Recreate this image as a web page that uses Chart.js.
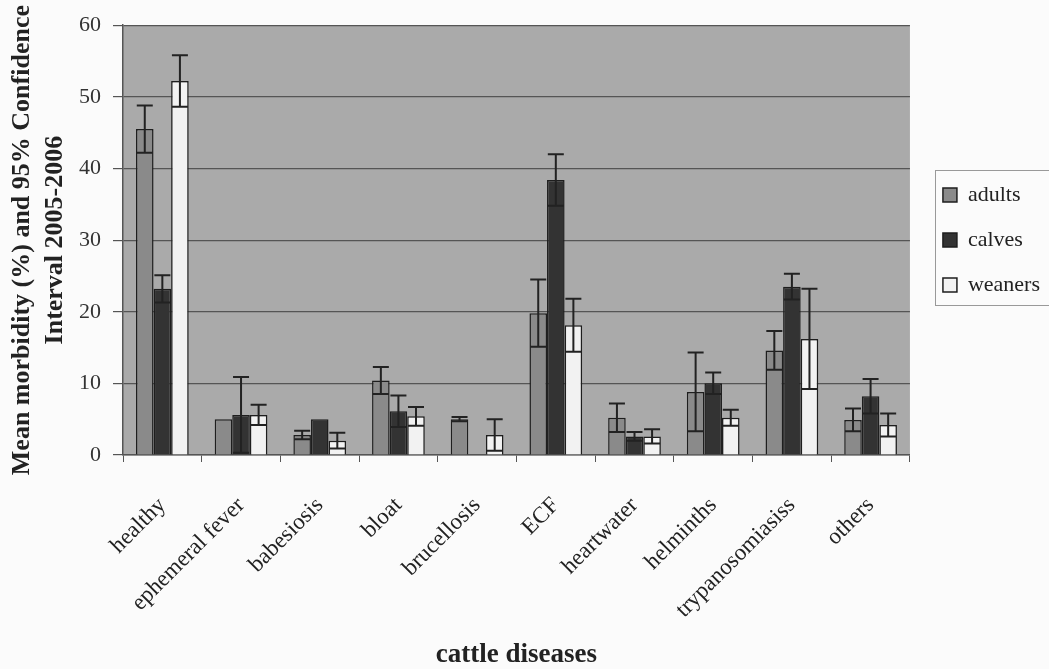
<!DOCTYPE html>
<html>
<head>
<meta charset="utf-8">
<script src="https://cdn.jsdelivr.net/npm/chart.js@4/dist/chart.umd.min.js"></script>
<style>
  html, body { margin: 0; padding: 0; background: #fbfbfb; }
  #wrap { width: 1049px; height: 669px; }
</style>
</head>
<body>
<div id="wrap"><canvas id="myChart"></canvas></div>
<script>
// categories and values
const labels = ['healthy', 'ephemeral fever', 'babesiosis', 'bloat', 'brucellosis', 'ECF', 'heartwater', 'helminths', 'trypanosomiasiss', 'others'];
const adults = [45.5, 5.0, 2.8, 10.4, 5.0, 19.8, 5.2, 8.8, 14.6, 4.9];
const calves = [23.2, 5.6, 5.0, 6.1, 0, 38.4, 2.6, 10.0, 23.5, 8.2];
const weaners = [52.2, 5.6, 2.0, 5.4, 2.8, 18.1, 2.6, 5.2, 16.2, 4.2];
// half-width of the 95% confidence interval
const adultsErr = [3.3, 0, 0.6, 1.9, 0.3, 4.7, 2.0, 5.5, 2.7, 1.6];
const calvesErr = [1.9, 5.3, 0, 2.2, 0, 3.6, 0.6, 1.5, 1.8, 2.4];
const weanersErr = [3.6, 1.4, 1.1, 1.3, 2.2, 3.7, 1.0, 1.1, 7.0, 1.6];
const yTicks = [0, 10, 20, 30, 40, 50, 60];

const serif = "'Liberation Serif', 'DejaVu Serif', serif";

// grey plot area
const plotBg = {
  id: 'plotBg',
  beforeDraw(chart) {
    const a = chart.chartArea, ctx = chart.ctx;
    ctx.save();
    ctx.fillStyle = '#aaaaaa';
    ctx.fillRect(a.left, a.top, a.right - a.left, a.bottom - a.top);
    ctx.restore();
  }
};

// error bars from the err arrays
const errorBars = {
  id: 'errorBars',
  afterDatasetsDraw(chart) {
    const ctx = chart.ctx, y = chart.scales.y;
    ctx.save();
    ctx.strokeStyle = '#222';
    ctx.lineWidth = 2;
    chart.data.datasets.forEach(function (ds, i) {
      const meta = chart.getDatasetMeta(i);
      meta.data.forEach(function (bar, j) {
        const e = ds.err[j];
        if (!e) return;
        const v = ds.data[j];
        const yt = y.getPixelForValue(v + e), yb = y.getPixelForValue(Math.max(0, v - e));
        const x = bar.x, w = 8;
        ctx.beginPath();
        ctx.moveTo(x, yt); ctx.lineTo(x, yb);
        ctx.moveTo(x - w, yt); ctx.lineTo(x + w, yt);
        ctx.moveTo(x - w, yb); ctx.lineTo(x + w, yb);
        ctx.stroke();
      });
    });
    ctx.restore();
  }
};

// push the legend a bit away from the plot and frame it
const legendBox = {
  id: 'legendBox',
  afterLayout(chart) {
    const l = chart.legend;
    l.left += 10;
    l.right += 10;
  },
  afterDraw(chart) {
    const hb = chart.legend.legendHitBoxes, ctx = chart.ctx;
    if (!hb || !hb.length) return;
    const first = hb[0], last = hb[hb.length - 1];
    ctx.save();
    ctx.strokeStyle = '#999';
    ctx.lineWidth = 1;
    const x0 = Math.round(first.left - 8) + 0.5, y0 = Math.round(first.top - 14) + 0.5;
    const y1 = Math.round(last.top + last.height + 9) + 0.5;
    ctx.strokeRect(x0, y0, chart.width + 5 - x0, y1 - y0);
    ctx.restore();
  }
};

const data = {
  labels: labels,
  datasets: [
    { label: 'adults', data: adults, err: adultsErr, backgroundColor: '#8a8a8a' },
    { label: 'calves', data: calves, err: calvesErr, backgroundColor: '#333333' },
    { label: 'weaners', data: weaners, err: weanersErr, backgroundColor: '#f2f2f2' }
  ]
};
data.datasets.forEach(function (d) {
  d.borderColor = '#1e1e1e';
  d.borderWidth = 1.5;
  d.barPercentage = 1.0;
  d.categoryPercentage = 0.67;
});

const config = {
  type: 'bar',
  data: data,
  options: {
    responsive: true,
    maintainAspectRatio: false,
    animation: false,
    layout: { padding: { left: 6, top: 24, right: 9, bottom: 0 } },
    plugins: {
      tooltip: { enabled: false },
      legend: {
        position: 'right',
        fullSize: false,
        labels: {
          font: { family: serif, size: 22 },
          color: '#222',
          boxWidth: 14,
          boxHeight: 14,
          padding: 23,
          generateLabels(chart) {
            return chart.data.datasets.map(function (ds, i) {
              return { text: ds.label, fillStyle: ds.backgroundColor, strokeStyle: '#1e1e1e', lineWidth: 1.5, datasetIndex: i, fontColor: '#222' };
            });
          }
        }
      }
    },
    scales: {
      x: {
        afterFit(scale) { scale.height = 214; },
        grid: { display: true, drawOnChartArea: false, color: '#555', tickLength: 7 },
        border: { color: '#555', width: 1.5 },
        ticks: {
          font: { family: serif, size: 23 },
          color: '#222',
          minRotation: 45,
          maxRotation: 45,
          autoSkip: false,
          padding: 30
        },
        title: {
          display: true,
          text: 'cattle diseases',
          font: { family: serif, size: 27, weight: 'bold', lineHeight: 1 },
          color: '#222',
          padding: { top: 0, bottom: 0 }
        }
      },
      y: {
        min: 0,
        max: 60,
        afterBuildTicks(scale) { scale.ticks = yTicks.map(function (v) { return { value: v }; }); },
        afterFit(scale) { scale.width = 117; },
        grid: { color: '#555', lineWidth: 1.2, tickLength: 10 },
        border: { color: '#555', width: 1.5 },
        ticks: { font: { family: serif, size: 22 }, color: '#333', padding: 12 },
        title: {
          display: true,
          text: ['Mean morbidity (%) and 95% Confidence', 'Interval 2005-2006'],
          font: { family: serif, size: 26, weight: 'bold', lineHeight: 1.26 },
          color: '#222',
          padding: { top: 0, bottom: 0 }
        }
      }
    }
  },
  plugins: [plotBg, errorBars, legendBox]
};

const myChart = new Chart(document.getElementById('myChart'), config);
</script>
</body>
</html>
